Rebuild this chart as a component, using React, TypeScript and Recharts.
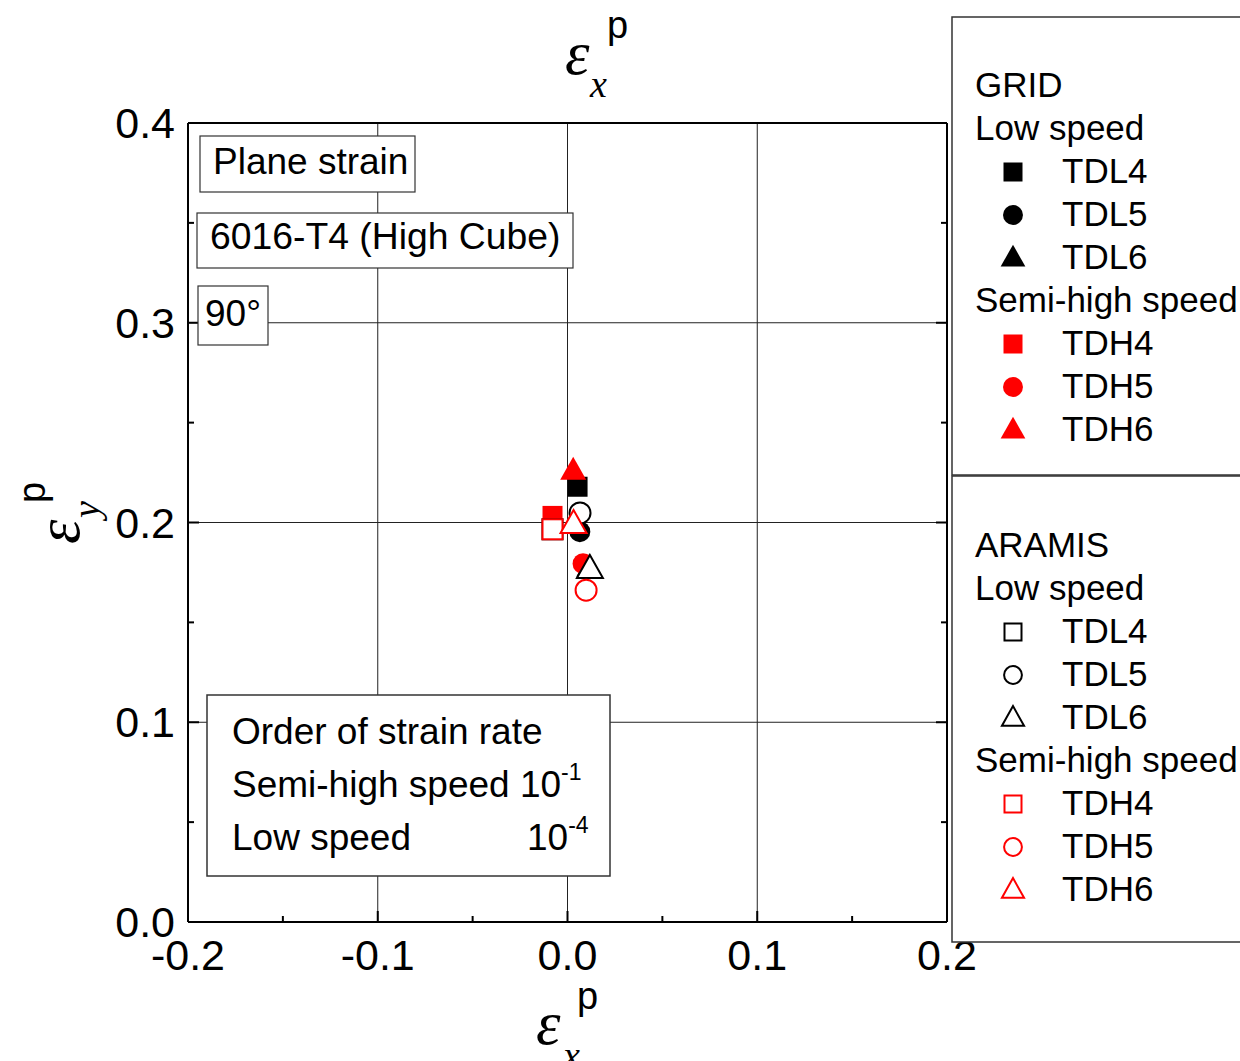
import React from 'react';
import { ScatterChart, Scatter, XAxis, YAxis, ReferenceLine } from 'recharts';

const xTicks = [-0.2, -0.15, -0.1, -0.05, 0, 0.05, 0.1, 0.15, 0.2];
const yTicks = [0, 0.05, 0.1, 0.15, 0.2, 0.25, 0.3, 0.35, 0.4];
const gridX = [-0.1, 0, 0.1];
const gridY = [0.1, 0.2, 0.3];

// GRID measurements (filled symbols)
const gridTDL4 = [{ x: 0.0053, y: 0.2179 }];
const gridTDL5 = [{ x: 0.0065, y: 0.1954 }];
const gridTDL6 = [{ x: 0.0115, y: 0.1775 }];
const gridTDH4 = [{ x: -0.0079, y: 0.2033 }];
const gridTDH5 = [{ x: 0.0082, y: 0.1794 }];
const gridTDH6 = [{ x: 0.003, y: 0.2259 }];

// ARAMIS measurements (open symbols)
const aramisTDL4 = [{ x: -0.0079, y: 0.1966 }];
const aramisTDL5 = [{ x: 0.0066, y: 0.2048 }];
const aramisTDL6 = [{ x: 0.0118, y: 0.1767 }];
const aramisTDH4 = [{ x: -0.0079, y: 0.1966 }];
const aramisTDH5 = [{ x: 0.0098, y: 0.1661 }];
const aramisTDH6 = [{ x: 0.0032, y: 0.1992 }];

const speedGroups = ['Low speed', 'Semi-high speed'];
const sans = "Arial, 'Liberation Sans', sans-serif";
const serif = "'Times New Roman', 'Liberation Serif', serif";

type Kind = 'square' | 'circle' | 'triangle';
interface Series {
  name: string;
  kind: Kind;
  color: string;
  filled: boolean;
  data: { x: number; y: number }[];
}

const gridSeries: Series[] = [
  { name: 'TDL4', kind: 'square', color: '#000', filled: true, data: gridTDL4 },
  { name: 'TDL5', kind: 'circle', color: '#000', filled: true, data: gridTDL5 },
  { name: 'TDL6', kind: 'triangle', color: '#000', filled: true, data: gridTDL6 },
  { name: 'TDH4', kind: 'square', color: '#ff0000', filled: true, data: gridTDH4 },
  { name: 'TDH5', kind: 'circle', color: '#ff0000', filled: true, data: gridTDH5 },
  { name: 'TDH6', kind: 'triangle', color: '#ff0000', filled: true, data: gridTDH6 },
];

const aramisSeries: Series[] = [
  { name: 'TDL4', kind: 'square', color: '#000', filled: false, data: aramisTDL4 },
  { name: 'TDL5', kind: 'circle', color: '#000', filled: false, data: aramisTDL5 },
  { name: 'TDL6', kind: 'triangle', color: '#000', filled: false, data: aramisTDL6 },
  { name: 'TDH4', kind: 'square', color: '#ff0000', filled: false, data: aramisTDH4 },
  { name: 'TDH5', kind: 'circle', color: '#ff0000', filled: false, data: aramisTDH5 },
  { name: 'TDH6', kind: 'triangle', color: '#ff0000', filled: false, data: aramisTDH6 },
];

function Mark({ cx, cy, kind, color, filled, s = 1 }: any) {
  const fill = filled ? color : '#fff';
  const stroke = filled ? 'none' : color;
  const sw = 2;
  if (kind === 'square') {
    const h = 10 * s;
    return <rect x={cx - h} y={cy - h} width={2 * h} height={2 * h} fill={fill} stroke={stroke} strokeWidth={sw} />;
  }
  if (kind === 'circle') {
    return <circle cx={cx} cy={cy} r={10.5 * s} fill={fill} stroke={stroke} strokeWidth={sw} />;
  }
  const pts = `${cx},${cy - 14 * s} ${cx - 13 * s},${cy + 9 * s} ${cx + 13 * s},${cy + 9 * s}`;
  return <polygon points={pts} fill={fill} stroke={stroke} strokeWidth={sw} strokeLinejoin="miter" />;
}

const isMajor = (v: number) => Math.abs(v * 10 - Math.round(v * 10)) < 1e-6;

const BottomTick = ({ x, y, payload }: any) => {
  const major = isMajor(payload.value);
  return (
    <g>
      <line x1={x} y1={y} x2={x} y2={y - (major ? 11 : 6)} stroke="#000" strokeWidth={2} />
      {major && (
        <text x={x} y={y + 48} textAnchor="middle" fontSize={43} fontFamily={sans} fill="#000">
          {payload.value.toFixed(1)}
        </text>
      )}
    </g>
  );
};

const TopTick = ({ x, y, payload }: any) => {
  const major = isMajor(payload.value);
  return <line x1={x} y1={y} x2={x} y2={y + (major ? 11 : 6)} stroke="#000" strokeWidth={2} />;
};

const LeftTick = ({ x, y, payload }: any) => {
  const major = isMajor(payload.value);
  return (
    <g>
      <line x1={x} y1={y} x2={x + (major ? 11 : 6)} y2={y} stroke="#000" strokeWidth={2} />
      {major && (
        <text x={x - 13} y={y + 15} textAnchor="end" fontSize={43} fontFamily={sans} fill="#000">
          {payload.value.toFixed(1)}
        </text>
      )}
    </g>
  );
};

const RightTick = ({ x, y, payload }: any) => {
  const major = isMajor(payload.value);
  return <line x1={x} y1={y} x2={x - (major ? 11 : 6)} y2={y} stroke="#000" strokeWidth={2} />;
};

function LegendBox({ top, height, title, series, firstBaseline }: any) {
  const step = 43;
  const rows: React.ReactNode[] = [];
  let b = firstBaseline;
  rows.push(<text key="t" x={975} y={b} fontSize={35} fontFamily={sans}>{title}</text>);
  speedGroups.forEach((g, gi) => {
    b += step;
    rows.push(<text key={'g' + gi} x={975} y={b} fontSize={35} fontFamily={sans}>{g}</text>);
    series.slice(gi * 3, gi * 3 + 3).forEach((s: Series, i: number) => {
      b += step;
      rows.push(
        <g key={'s' + gi + i}>
          <Mark cx={1013} cy={b - 11} kind={s.kind} color={s.color} filled={s.filled} s={s.filled ? 0.95 : 0.85} />
          <text x={1062} y={b} fontSize={35} fontFamily={sans}>{s.name}</text>
        </g>
      );
    });
  });
  return (
    <g>
      <rect x={952} y={top} width={320} height={height} fill="#fff" stroke="#333" strokeWidth={1.5} />
      {rows}
    </g>
  );
}

export default function App() {
  const all = [...gridSeries, ...aramisSeries];
  return (
    <div style={{ position: 'absolute', left: 0, top: 0, width: 1240, height: 1061, overflow: 'hidden', background: '#fff' }}>
      <ScatterChart width={1240} height={1061} margin={{ top: 113, right: 283, bottom: 79, left: 108 }}>
        <XAxis
          xAxisId="b"
          type="number"
          dataKey="x"
          domain={[-0.2, 0.2]}
          ticks={xTicks}
          interval={0}
          allowDataOverflow
          height={60}
          tickLine={false}
          tickSize={0}
          tickMargin={0}
          axisLine={{ stroke: '#000', strokeWidth: 2 }}
          tick={<BottomTick />}
        />
        <XAxis
          xAxisId="t"
          orientation="top"
          type="number"
          domain={[-0.2, 0.2]}
          ticks={xTicks}
          interval={0}
          allowDataOverflow
          height={10}
          tickLine={false}
          tickSize={0}
          tickMargin={0}
          axisLine={{ stroke: '#000', strokeWidth: 2 }}
          tick={<TopTick />}
        />
        <YAxis
          yAxisId="l"
          type="number"
          dataKey="y"
          domain={[0, 0.4]}
          ticks={yTicks}
          interval={0}
          allowDataOverflow
          width={80}
          tickLine={false}
          tickSize={0}
          tickMargin={0}
          axisLine={{ stroke: '#000', strokeWidth: 2 }}
          tick={<LeftTick />}
        />
        <YAxis
          yAxisId="r"
          orientation="right"
          type="number"
          domain={[0, 0.4]}
          ticks={yTicks}
          interval={0}
          allowDataOverflow
          width={10}
          tickLine={false}
          tickSize={0}
          tickMargin={0}
          axisLine={{ stroke: '#000', strokeWidth: 2 }}
          tick={<RightTick />}
        />
        {gridX.map((v) => (
          <ReferenceLine key={'gx' + v} xAxisId="b" yAxisId="l" x={v} stroke="#222" strokeWidth={1} />
        ))}
        {gridY.map((v) => (
          <ReferenceLine key={'gy' + v} xAxisId="b" yAxisId="l" y={v} stroke="#222" strokeWidth={1} />
        ))}
        {all.map((s, i) => (
          <Scatter
            key={i}
            name={s.name}
            xAxisId="b"
            yAxisId="l"
            data={s.data}
            isAnimationActive={false}
            shape={(p: any) => <Mark cx={p.cx} cy={p.cy} kind={s.kind} color={s.color} filled={s.filled} />}
          />
        ))}
      </ScatterChart>

      <svg width={1240} height={1061} style={{ position: 'absolute', left: 0, top: 0, pointerEvents: 'none' }}>
        {/* annotation boxes */}
        <rect x={200} y={136} width={215} height={56} fill="#fff" stroke="#333" strokeWidth={1.2} />
        <text x={213} y={174} fontSize={37} fontFamily={sans}>Plane strain</text>
        <rect x={197} y={213} width={376} height={55} fill="#fff" stroke="#333" strokeWidth={1.2} />
        <text x={210} y={249} fontSize={37.3} fontFamily={sans}>6016-T4 (High Cube)</text>
        <rect x={198} y={286} width={70} height={59} fill="#fff" stroke="#333" strokeWidth={1.2} />
        <text x={205} y={326} fontSize={37} fontFamily={sans}>90°</text>

        <rect x={207} y={695} width={403} height={181} fill="#fff" stroke="#333" strokeWidth={1.5} />
        <text x={232} y={744} fontSize={37} fontFamily={sans}>Order of strain rate</text>
        <text x={232} y={797} fontSize={37} fontFamily={sans}>
          Semi-high speed 10<tspan dy={-17} fontSize={23}>-1</tspan>
        </text>
        <text x={232} y={850} fontSize={37} fontFamily={sans}>Low speed</text>
        <text x={527} y={850} fontSize={37} fontFamily={sans}>
          10<tspan dy={-17} fontSize={23}>-4</tspan>
        </text>

        {/* legends */}
        <LegendBox top={17} height={458} title="GRID" series={gridSeries} firstBaseline={97} />
        <LegendBox top={476} height={466} title="ARAMIS" series={aramisSeries} firstBaseline={557} />

        {/* axis titles */}
        <text x={565} y={74} fontSize={62} fontStyle="italic" fontFamily={serif}>ε</text>
        <text x={590} y={97} fontSize={38} fontStyle="italic" fontFamily={serif}>x</text>
        <text x={607} y={38} fontSize={38} fontFamily={sans}>p</text>

        <text x={536} y={1044} fontSize={62} fontStyle="italic" fontFamily={serif}>ε</text>
        <text x={563} y={1068} fontSize={38} fontStyle="italic" fontFamily={serif}>x</text>
        <text x={577} y={1009} fontSize={38} fontFamily={sans}>p</text>

        <g transform="translate(79, 544) rotate(-90)">
          <text x={0} y={0} fontSize={62} fontStyle="italic" fontFamily={serif}>ε</text>
          <text x={26} y={20} fontSize={38} fontStyle="italic" fontFamily={serif}>y</text>
          <text x={41} y={-34} fontSize={38} fontFamily={sans}>p</text>
        </g>
      </svg>
    </div>
  );
}
